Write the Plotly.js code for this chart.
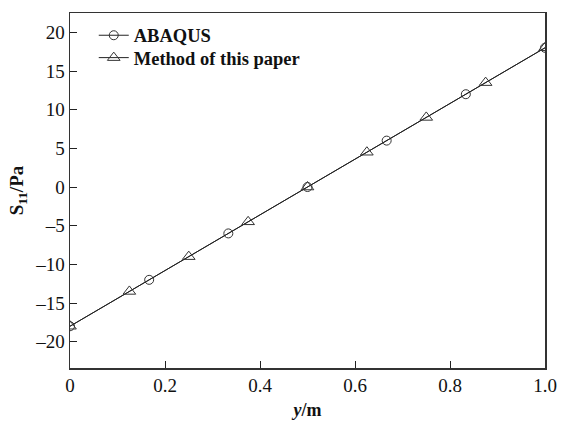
<!DOCTYPE html>
<html>
<head>
<meta charset="utf-8">
<script src="https://cdn.plot.ly/plotly-3.0.1.min.js"></script>
<style>html,body{margin:0;padding:0;background:#fff;}</style>
</head>
<body>
<div id="chart" style="width:562px;height:425px;"></div>
<script>
const abaqusX = [0, 1/6, 1/3, 0.5, 2/3, 5/6, 1.0];
const abaqusY = [-18, -12, -6, 0, 6, 12, 18];
const methodX = [0, 0.125, 0.25, 0.375, 0.5, 0.625, 0.75, 0.875, 1.0];
const methodY = [-18, -13.5, -9, -4.5, 0, 4.5, 9, 13.5, 18];
const xTicks = [0, 0.2, 0.4, 0.6, 0.8, 1.0];
const xTickText = ['0', '0.2', '0.4', '0.6', '0.8', '1.0'];
const yTicks = [-20, -15, -10, -5, 0, 5, 10, 15, 20];

const FAM = 'Liberation Serif';

const traces = [
  {x: abaqusX, y: abaqusY, name: '<b>ABAQUS</b>', mode: 'lines+markers', cliponaxis: true,
   legend: 'legend',
   line: {color: '#222', width: 1},
   marker: {symbol: 'circle-open', size: 9, color: '#333', line: {width: 1}}},
  {x: methodX, y: methodY, name: '<b>Method of this paper</b>', mode: 'lines+markers', cliponaxis: true,
   legend: 'legend2',
   line: {color: '#222', width: 1},
   marker: {symbol: 'triangle-up-open', size: 11, color: '#333', line: {width: 1}}}
];

const legFont = {family: FAM, size: 18.5, color: '#111'};
const layout = {
  width: 562, height: 425,
  margin: {l: 70, r: 17, t: 13, b: 57},
  paper_bgcolor: '#fff', plot_bgcolor: '#fff',
  font: {family: FAM, size: 18, color: '#111'},
  showlegend: true,
  legend: {x: 0.05, y: 0.936, xanchor: 'left', yanchor: 'middle', bgcolor: 'rgba(0,0,0,0)',
           font: legFont, itemwidth: 30},
  legend2: {x: 0.05, y: 0.873, xanchor: 'left', yanchor: 'middle', bgcolor: 'rgba(0,0,0,0)',
           font: legFont, itemwidth: 30},
  xaxis: {range: [0, 1.0], tickvals: xTicks, ticktext: xTickText, ticks: 'inside', ticklen: 7,
          tickcolor: '#222', showline: true, linecolor: '#333', linewidth: 1.5, mirror: true,
          showgrid: false, zeroline: false,
          tickfont: {family: FAM, size: 19, color: '#111'},
          title: {text: '<b><i>y</i>/m</b>', font: {family: FAM, size: 18, color: '#111'}, standoff: 8}},
  yaxis: {range: [-23.4, 22.5], tickvals: yTicks, ticktext: yTicks.map(v => v < 0 ? '\u2013' + Math.abs(v) : String(v)),
          ticks: 'inside', ticklen: 7,
          tickcolor: '#222', showline: true, linecolor: '#333', linewidth: 1.5, mirror: true,
          showgrid: false, zeroline: false,
          tickfont: {family: FAM, size: 19, color: '#111'},
          title: {text: '<b>S<sub>11</sub>/Pa</b>', font: {family: FAM, size: 19, color: '#111'}, standoff: 6}}
};

Plotly.newPlot('chart', traces, layout, {staticPlot: true, displayModeBar: false});
</script>
</body>
</html>
